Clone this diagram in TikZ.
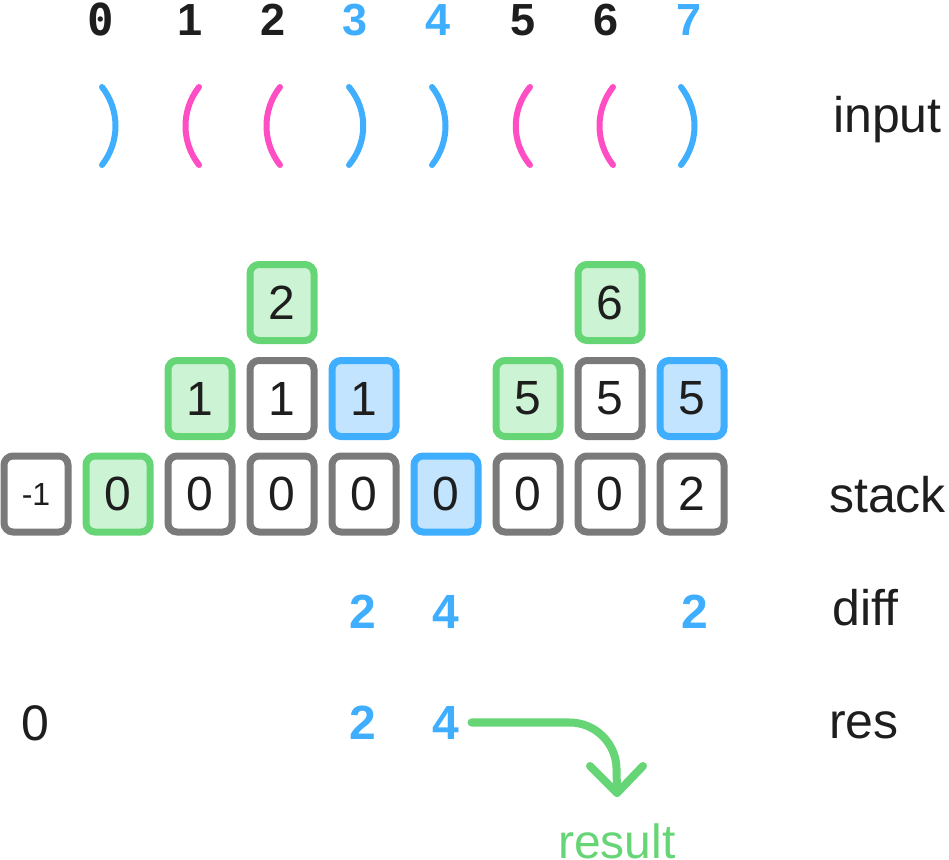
\documentclass[tikz,border=0pt]{standalone}
\usepackage{fontspec}
\setmainfont{Liberation Sans}
\newfontfamily\monofnt{DejaVu Sans Mono}
\definecolor{cblue}{HTML}{3FAEFF}
\definecolor{cpink}{HTML}{FF4DC4}
\definecolor{cgreen}{HTML}{66D575}
\definecolor{cgreenfill}{HTML}{CCF3D3}
\definecolor{cbluefill}{HTML}{C2E4FF}
\definecolor{cgray}{HTML}{7A7A7A}
\definecolor{ctext}{HTML}{1E1E1E}
\tikzset{
  cell/.style={draw=cgray, fill=white, line width=7pt, rounded corners=9pt,
    minimum width=64pt, minimum height=76pt, inner sep=0pt,
    text=ctext, font=\fontsize{48}{50}\selectfont},
  gcell/.style={cell, draw=cgreen, fill=cgreenfill},
  bcell/.style={cell, draw=cblue, fill=cbluefill},
  idx/.style={anchor=base, inner sep=0pt, text=ctext, font=\bfseries\fontsize{45}{48}\selectfont},
  bidx/.style={idx, text=cblue},
  paren/.style={line width=6pt, line cap=round},
  rowlabel/.style={anchor=base west, inner sep=0pt, text=ctext, font=\fontsize{50}{52}\selectfont},
  bnum/.style={anchor=base, text=cblue, font=\bfseries\fontsize{48}{50}\selectfont},
  resarrow/.style={draw=cgreen, line width=8pt, line cap=round, line join=round}
}
\begin{document}
\begin{tikzpicture}[x=1pt, y=-1pt]
\useasboundingbox (0,0) rectangle (949,859);
% index labels
\node[idx, font=\monofnt\bfseries\fontsize{44}{46}\selectfont] (i0) at (101,36) {0};
\node[idx] (i1) at (190,36) {1};
\node[idx] (i2) at (273,36) {2};
\node[bidx] (i3) at (355,36) {3};
\node[bidx] (i4) at (438,36) {4};
\node[idx] (i5) at (523,36) {5};
\node[idx] (i6) at (606,36) {6};
\node[bidx] (i7) at (689,36) {7};
% parentheses
\draw[paren, cblue] (102,87) .. controls (120,110) and (120,142) .. (102,165);
\draw[paren, cpink] (199,87) .. controls (181,110) and (181,142) .. (199,165);
\draw[paren, cpink] (280,87) .. controls (262,110) and (262,142) .. (280,165);
\draw[paren, cblue] (349,87) .. controls (368,110) and (368,142) .. (349,165);
\draw[paren, cblue] (432,87) .. controls (450,110) and (450,142) .. (432,165);
\draw[paren, cpink] (530,87) .. controls (511,110) and (511,142) .. (530,165);
\draw[paren, cpink] (613,87) .. controls (595,110) and (595,142) .. (613,165);
\draw[paren, cblue] (681,87) .. controls (699,110) and (699,142) .. (681,165);
\node[rowlabel] (linput) at (833,132) {input};
% stack top row
\node[gcell] (t2) at (282,302.5) {2};
\node[gcell] (t6) at (610,302.5) {6};
% middle row
\node[gcell] (m1) at (200,398.5) {1};
\node[cell]  (m2) at (282,398.5) {1};
\node[bcell] (m3) at (364,398.5) {1};
\node[gcell] (m5) at (528,398.5) {5};
\node[cell]  (m6) at (610,398.5) {5};
\node[bcell] (m7) at (692,398.5) {5};
% bottom row
\node[cell, font=\fontsize{32}{34}\selectfont] (bm) at (36,494) {-1};
\node[gcell] (b0) at (118,494) {0};
\node[cell]  (b1) at (200,494) {0};
\node[cell]  (b2) at (282,494) {0};
\node[cell]  (b3) at (364,494) {0};
\node[bcell] (b4) at (446,494) {0};
\node[cell]  (b5) at (528,494) {0};
\node[cell]  (b6) at (610,494) {0};
\node[cell]  (b7) at (692,494) {2};
\node[rowlabel] (lstack) at (829,512) {stack};
% diff
\node[bnum] (d3) at (363,628) {2};
\node[bnum] (d4) at (446,628) {4};
\node[bnum] (d7) at (695,628) {2};
\node[rowlabel] (ldiff) at (832,625) {diff};
% res
\node[anchor=base, inner sep=0pt, text=ctext, font=\fontsize{50}{52}\selectfont] (r0) at (35,740) {0};
\node[bnum] (r3) at (363,739) {2};
\node[bnum, inner xsep=12pt] (r4) at (446,739) {4};
\node[rowlabel] (lres) at (829,738) {res};
% result
\node[anchor=base, inner sep=0pt, text=cgreen, font=\fontsize{48}{50}\selectfont] (lresult) at (617,858) {result};
\coordinate (tip) at (617,793);
\draw[resarrow] (r4.east) -- ++(98,0) arc[start angle=270, end angle=360, radius=47] -- (tip);
\draw[resarrow] (590,766) -- (tip) -- (643,766);
\end{tikzpicture}
\end{document}
